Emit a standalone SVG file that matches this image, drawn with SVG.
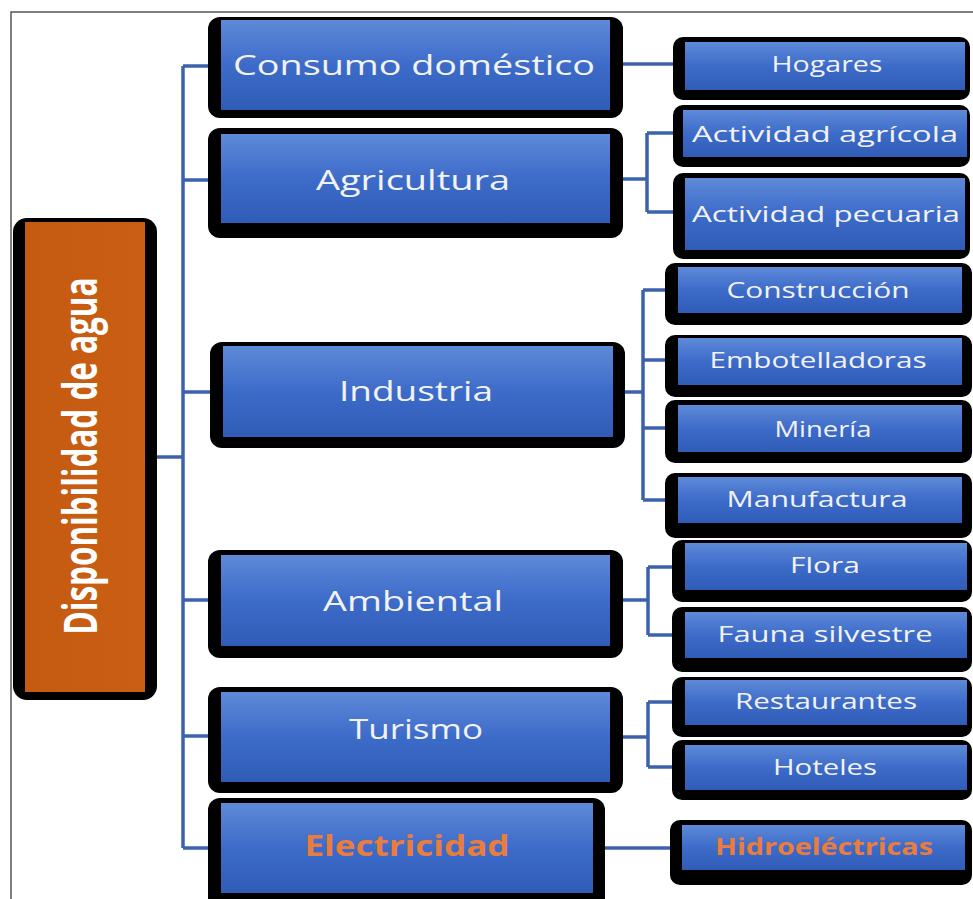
<svg xmlns="http://www.w3.org/2000/svg" width="973" height="899" viewBox="0 0 973 899">
<defs>
<linearGradient id="blue" x1="0" y1="0" x2="0" y2="1">
<stop offset="0" stop-color="#5E8AD8"/>
<stop offset="0.5" stop-color="#3D6BC9"/>
<stop offset="1" stop-color="#2F5CB6"/>
</linearGradient>
<linearGradient id="orange" x1="0" y1="0" x2="1" y2="0">
<stop offset="0" stop-color="#C55A11"/>
<stop offset="1" stop-color="#C95E14"/>
</linearGradient>
</defs>
<style>
.sh{fill:#000}
.bx{fill:url(#blue)}
.m{font-family:"Open Sans","Liberation Sans",sans-serif;font-size:28px;fill:#F2F2F2;text-anchor:middle}
.s{font-family:"Open Sans","Liberation Sans",sans-serif;font-size:22.5px;fill:#F2F2F2;text-anchor:middle}
.o{fill:#EB7D3C;font-weight:bold}
.c{fill:none;stroke:#3C62AC;stroke-width:3.5}
</style>
<rect width="973" height="899" fill="#FFFFFF"/>
<path d="M11,899 V12 H973" fill="none" stroke="#555" stroke-width="1.5"/>

<g id="connectors">
<path class="c" d="M183,66 V848"/>
<path class="c" d="M157,457 H183"/>
<path class="c" d="M183,66 H221 M183,180 H221 M183,392 H223 M183,600 H221 M183,736 H221 M183,848 H221"/>
<path class="c" d="M610,64 H685"/>
<path class="c" d="M610,179 H647 M647,133 V212 M647,133 H683 M647,212 H683"/>
<path class="c" d="M613,392 H643 M643,290 V500 M643,290 H678 M643,360 H678 M643,428 H678 M643,500 H678"/>
<path class="c" d="M610,600 H648 M648,567 V635 M648,567 H685 M648,635 H685"/>
<path class="c" d="M610,737 H648 M648,702 V767 M648,702 H685 M648,767 H685"/>
<path class="c" d="M593,848 H682"/>
</g>

<g id="disponibilidad">
<rect class="sh" x="13" y="218" width="144" height="482" rx="14"/>
<rect x="25" y="222" width="120" height="470" fill="url(#orange)"/>
<text transform="translate(97,456) rotate(-90)" x="0" y="0" text-anchor="middle" font-family="'Open Sans','Liberation Sans',sans-serif" font-weight="bold" font-size="46" fill="#FFFFFF" textLength="357" lengthAdjust="spacingAndGlyphs">Disponibilidad de agua</text>
</g>

<g id="consumo">
<rect class="sh" x="208" y="17" width="415" height="101" rx="12"/>
<rect class="bx" x="221" y="20" width="389" height="90"/>
<text class="m" x="414" y="75" textLength="362" lengthAdjust="spacingAndGlyphs">Consumo doméstico</text>
</g>
<g id="agricultura">
<rect class="sh" x="208" y="128" width="415" height="110" rx="12"/>
<rect class="bx" x="221" y="134" width="389" height="89"/>
<text class="m" x="413" y="190" textLength="194" lengthAdjust="spacingAndGlyphs">Agricultura</text>
</g>
<g id="industria">
<rect class="sh" x="210" y="342" width="415" height="106" rx="12"/>
<rect class="bx" x="223" y="346" width="390" height="91"/>
<text class="m" x="416" y="401" textLength="154" lengthAdjust="spacingAndGlyphs">Industria</text>
</g>
<g id="ambiental">
<rect class="sh" x="208" y="550" width="415" height="108" rx="12"/>
<rect class="bx" x="221" y="555" width="389" height="91"/>
<text class="m" x="413" y="611" textLength="180" lengthAdjust="spacingAndGlyphs">Ambiental</text>
</g>
<g id="turismo">
<rect class="sh" x="208" y="687" width="415" height="106" rx="12"/>
<rect class="bx" x="221" y="692" width="389" height="90"/>
<text class="m" x="416" y="739" textLength="134" lengthAdjust="spacingAndGlyphs">Turismo</text>
</g>
<g id="electricidad">
<rect class="sh" x="208" y="798" width="397" height="112" rx="12"/>
<rect class="bx" x="221" y="803" width="372" height="90"/>
<text class="m o" x="407" y="856" textLength="205" lengthAdjust="spacingAndGlyphs">Electricidad</text>
</g>

<g id="hogares">
<rect class="sh" x="673" y="37" width="297" height="63" rx="10"/>
<rect class="bx" x="685" y="42" width="280" height="48"/>
<text class="s" x="827" y="72" textLength="111" lengthAdjust="spacingAndGlyphs">Hogares</text>
</g>
<g id="agricola">
<rect class="sh" x="673" y="105" width="297" height="62" rx="10"/>
<rect class="bx" x="683" y="110" width="284" height="47"/>
<text class="s" x="825" y="142" textLength="266" lengthAdjust="spacingAndGlyphs">Actividad agrícola</text>
</g>
<g id="pecuaria">
<rect class="sh" x="673" y="173" width="297" height="86" rx="10"/>
<rect class="bx" x="685" y="178" width="280" height="72"/>
<text class="s" x="826" y="222" textLength="268" lengthAdjust="spacingAndGlyphs">Actividad pecuaria</text>
</g>
<g id="construccion">
<rect class="sh" x="665" y="263" width="307" height="62" rx="10"/>
<rect class="bx" x="678" y="267" width="284" height="46"/>
<text class="s" x="818" y="298" textLength="183" lengthAdjust="spacingAndGlyphs">Construcción</text>
</g>
<g id="embotelladoras">
<rect class="sh" x="665" y="335" width="307" height="62" rx="10"/>
<rect class="bx" x="678" y="338" width="284" height="47"/>
<text class="s" x="818" y="368" textLength="217" lengthAdjust="spacingAndGlyphs">Embotelladoras</text>
</g>
<g id="mineria">
<rect class="sh" x="665" y="400" width="307" height="63" rx="10"/>
<rect class="bx" x="678" y="405" width="284" height="47"/>
<text class="s" x="823" y="437" textLength="97" lengthAdjust="spacingAndGlyphs">Minería</text>
</g>
<g id="manufactura">
<rect class="sh" x="665" y="473" width="307" height="65" rx="10"/>
<rect class="bx" x="678" y="477" width="284" height="46"/>
<text class="s" x="817" y="507" textLength="181" lengthAdjust="spacingAndGlyphs">Manufactura</text>
</g>
<g id="flora">
<rect class="sh" x="672" y="540" width="300" height="62" rx="10"/>
<rect class="bx" x="685" y="543" width="282" height="47"/>
<text class="s" x="825" y="573" textLength="70" lengthAdjust="spacingAndGlyphs">Flora</text>
</g>
<g id="fauna">
<rect class="sh" x="672" y="607" width="300" height="65" rx="10"/>
<rect class="bx" x="685" y="612" width="282" height="46"/>
<text class="s" x="825" y="642" textLength="215" lengthAdjust="spacingAndGlyphs">Fauna silvestre</text>
</g>
<g id="restaurantes">
<rect class="sh" x="672" y="677" width="300" height="60" rx="10"/>
<rect class="bx" x="685" y="680" width="282" height="45"/>
<text class="s" x="826" y="709" textLength="182" lengthAdjust="spacingAndGlyphs">Restaurantes</text>
</g>
<g id="hoteles">
<rect class="sh" x="672" y="740" width="300" height="60" rx="10"/>
<rect class="bx" x="685" y="745" width="282" height="45"/>
<text class="s" x="825" y="775" textLength="104" lengthAdjust="spacingAndGlyphs">Hoteles</text>
</g>
<g id="hidroelectricas">
<rect class="sh" x="670" y="820" width="302" height="65" rx="10"/>
<rect class="bx" x="682" y="825" width="283" height="45"/>
<text class="s o" x="824" y="855" textLength="218" lengthAdjust="spacingAndGlyphs">Hidroeléctricas</text>
</g>
</svg>
